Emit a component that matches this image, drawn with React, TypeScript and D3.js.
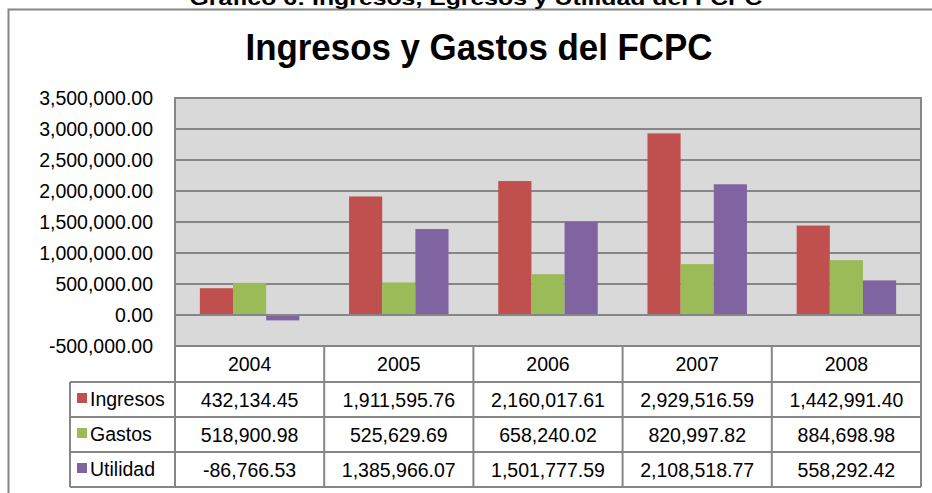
import React, { useEffect, useRef } from 'react';
import * as d3 from 'd3';

const years = ['2004', '2005', '2006', '2007', '2008'];
const seriesNames = ['Ingresos', 'Gastos', 'Utilidad'];
const ingresos = [432134.45, 1911595.76, 2160017.61, 2929516.59, 1442991.4];
const gastos = [518900.98, 525629.69, 658240.02, 820997.82, 884698.98];
const utilidad = [-86766.53, 1385966.07, 1501777.59, 2108518.77, 558292.42];
const yTicks = [-500000, 0, 500000, 1000000, 1500000, 2000000, 2500000, 3000000, 3500000];
const colors = ['#C0504D', '#9BBB59', '#8064A2'];

const App = () => {
    const svgRef = useRef(null);

    useEffect(() => {
        const svg = d3.select(svgRef.current);
        svg.selectAll('*').remove();
        const width = 932;
        const height = 493;
        const font = '"Liberation Sans", Arial, sans-serif';
        const lineColor = '#868686';
        const plot = { left: 175, right: 921, top: 98, bottom: 346 };
        const rowH = 35;
        const headerBottom = 382;
        const legendLeft = 70;
        const fs = 19.5;

        svg.attr('width', width).attr('height', height).style('font-family', font);

        // outer chart frame
        svg.append('rect')
            .attr('x', 8.5).attr('y', 9.5)
            .attr('width', 940).attr('height', 500)
            .attr('fill', '#fff').attr('stroke', lineColor).attr('stroke-width', 2);

        // caption cut off at the top (as in the original scan)
        svg.append('text')
            .attr('x', 476).attr('y', 5)
            .attr('text-anchor', 'middle')
            .attr('font-size', 20).attr('font-weight', 'bold')
            .attr('textLength', 573).attr('lengthAdjust', 'spacingAndGlyphs')
            .text('Gráfico 6: Ingresos, Egresos y Utilidad del FCPC');

        svg.append('text')
            .attr('x', 479).attr('y', 60)
            .attr('text-anchor', 'middle')
            .attr('font-size', 36).attr('font-weight', 'bold')
            .attr('textLength', 467).attr('lengthAdjust', 'spacingAndGlyphs')
            .text('Ingresos y Gastos del FCPC');

        const x0 = d3.scaleBand().domain(years).range([plot.left, plot.right]);
        const x1 = d3.scaleBand().domain(seriesNames).range([0, x0.bandwidth()]).paddingOuter(0.75);
        const y = d3.scaleLinear().domain([-500000, 3500000]).range([plot.bottom, plot.top]);

        svg.append('rect')
            .attr('x', plot.left).attr('y', plot.top)
            .attr('width', plot.right - plot.left).attr('height', plot.bottom - plot.top)
            .attr('fill', '#D9D9D9');

        svg.append('g').selectAll('line')
            .data(yTicks)
            .enter().append('line')
            .attr('x1', plot.left).attr('x2', plot.right)
            .attr('y1', d => y(d)).attr('y2', d => y(d))
            .attr('stroke', lineColor).attr('stroke-width', 2);

        const fmt = v => d3.format(',.2f')(v).replace('\u2212', '-');
        svg.append('g').selectAll('text')
            .data(yTicks)
            .enter().append('text')
            .attr('x', 153).attr('y', d => y(d) + 7)
            .attr('text-anchor', 'end')
            .attr('font-size', fs)
            .text(d => fmt(d));

        const values = [ingresos, gastos, utilidad];
        const bars = [];
        values.forEach((arr, si) => arr.forEach((v, i) => bars.push({ year: years[i], s: seriesNames[si], si, v })));
        svg.append('g').selectAll('rect')
            .data(bars)
            .enter().append('rect')
            .attr('x', d => x0(d.year) + x1(d.s))
            .attr('y', d => y(Math.max(0, d.v)))
            .attr('width', x1.bandwidth())
            .attr('height', d => Math.abs(y(d.v) - y(0)))
            .attr('fill', d => colors[d.si]);

        // zero line over the bars
        svg.append('line')
            .attr('x1', plot.left).attr('x2', plot.right)
            .attr('y1', y(0)).attr('y2', y(0))
            .attr('stroke', lineColor).attr('stroke-width', 2);

        // plot border
        svg.append('rect')
            .attr('x', plot.left).attr('y', plot.top)
            .attr('width', plot.right - plot.left).attr('height', plot.bottom - plot.top)
            .attr('fill', 'none').attr('stroke', lineColor).attr('stroke-width', 2);

        // data table
        const table = svg.append('g');
        const tableBottom = headerBottom + rowH * 3;
        const line = (x1v, y1v, x2v, y2v) => table.append('line')
            .attr('x1', x1v).attr('y1', y1v).attr('x2', x2v).attr('y2', y2v)
            .attr('stroke', lineColor).attr('stroke-width', 2);

        line(plot.left, plot.bottom, plot.right, plot.bottom);
        line(legendLeft, headerBottom, plot.right, headerBottom);
        [1, 2, 3].forEach(r => line(legendLeft, headerBottom + rowH * r, plot.right, headerBottom + rowH * r));
        line(legendLeft, headerBottom, legendLeft, tableBottom);
        years.forEach(yr => line(x0(yr), plot.bottom, x0(yr), tableBottom));
        line(plot.right, plot.bottom, plot.right, tableBottom);

        table.selectAll('.yr')
            .data(years)
            .enter().append('text')
            .attr('x', d => x0(d) + x0.bandwidth() / 2)
            .attr('y', (plot.bottom + headerBottom) / 2 + 7)
            .attr('text-anchor', 'middle')
            .attr('font-size', fs)
            .text(d => d);

        values.forEach((arr, si) => {
            const cy = headerBottom + rowH * si + rowH / 2;
            table.append('rect')
                .attr('x', 77).attr('y', cy - 6.5)
                .attr('width', 10).attr('height', 10)
                .attr('fill', colors[si]);
            table.append('text')
                .attr('x', 90).attr('y', cy + 6)
                .attr('font-size', fs)
                .text(seriesNames[si]);
            table.selectAll('.v' + si)
                .data(arr)
                .enter().append('text')
                .attr('x', (d, i) => x0(years[i]) + x0.bandwidth() / 2)
                .attr('y', cy + 7)
                .attr('text-anchor', 'middle')
                .attr('font-size', fs)
                .text(d => fmt(d));
        });
    }, []);

    return (
        <div style={{ position: 'absolute', left: 0, top: 0 }}>
            <svg ref={svgRef}></svg>
        </div>
    );
};

export default App;
